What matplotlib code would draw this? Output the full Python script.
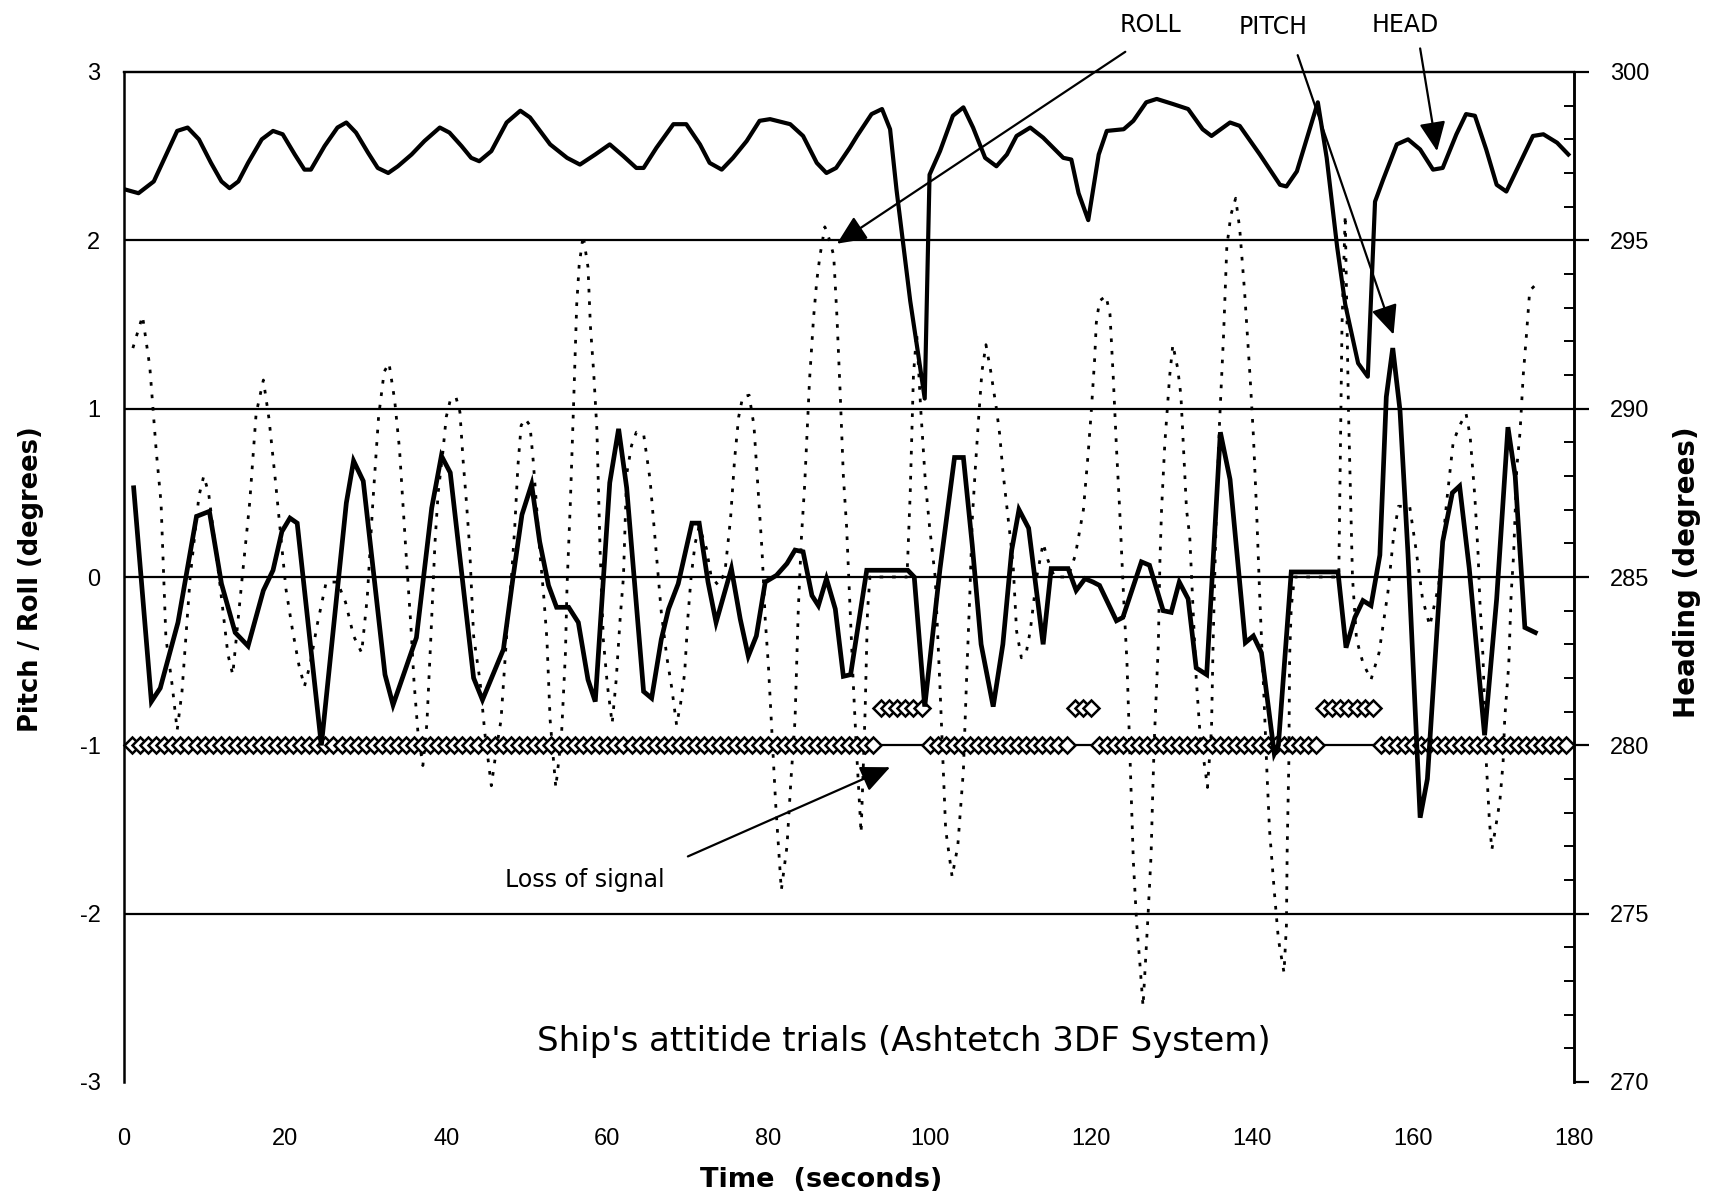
import numpy as np
import matplotlib
matplotlib.use("Agg")
import matplotlib.pyplot as plt
from matplotlib.ticker import MultipleLocator

# ---------------- data ----------------
pitch_t = [1.2, 3.4, 4.5, 6.7, 9.0, 10.6, 12.1, 13.8, 15.4, 17.3, 18.5, 19.6, 20.6, 21.5,
           24.5, 27.6, 28.5, 29.7, 32.4, 33.4, 36.3, 38.2, 39.4, 40.5, 43.4, 44.5, 47.1,
           48.3, 49.4, 50.6, 51.6, 52.7, 53.7, 55.2, 56.4, 57.6, 58.5, 60.3, 61.4, 62.4,
           64.5, 65.5, 66.7, 67.6, 68.8, 70.5, 71.4, 72.5, 73.5, 75.4, 76.5, 77.5, 78.5,
           79.6, 81.0, 82.3, 83.3, 84.3, 85.4, 86.2, 87.2, 88.3, 89.3, 90.2, 92.2, 97.3,
           98.1, 99.4, 101.3, 103.1, 104.2, 105.3, 106.4, 107.9, 109.1, 110.2, 111.1,
           112.3, 114.1, 115.1, 117.2, 118.2, 119.3, 120.3, 121.1, 123.2, 124.0, 126.3,
           127.3, 129.0, 130.0, 131.0, 132.1, 133.1, 134.4, 136.1, 137.3, 139.2, 140.2,
           141.2, 142.8, 143.3, 144.9, 150.7, 151.7, 152.8, 153.8, 154.8, 155.9, 156.7,
           157.5, 158.4, 159.4, 160.9, 161.8, 163.7, 164.9, 165.8, 167.0, 168.9, 170.4,
           171.8, 172.7, 173.9, 175.2]
pitch_v = [0.53, -0.74, -0.66, -0.27, 0.36, 0.39, -0.04, -0.33, -0.41, -0.08, 0.04, 0.27, 0.35, 0.32,
           -1.00, 0.44, 0.69, 0.57, -0.58, -0.76, -0.36, 0.41, 0.72, 0.62, -0.60, -0.73, -0.43,
           0.00, 0.37, 0.55, 0.21, -0.05, -0.18, -0.18, -0.27, -0.61, -0.74, 0.56, 0.88, 0.53,
           -0.68, -0.72, -0.37, -0.19, -0.04, 0.32, 0.32, -0.03, -0.27, 0.05, -0.25, -0.47, -0.35,
           -0.03, 0.01, 0.08, 0.16, 0.15, -0.11, -0.17, -0.01, -0.19, -0.59, -0.58, 0.04, 0.04,
           0.00, -0.77, 0.05, 0.71, 0.71, 0.19, -0.40, -0.77, -0.40, 0.16, 0.40,
           0.29, -0.40, 0.05, 0.05, -0.08, -0.01, -0.03, -0.05, -0.26, -0.24, 0.09,
           0.07, -0.20, -0.21, -0.03, -0.13, -0.54, -0.58, 0.86, 0.58, -0.39, -0.35,
           -0.45, -1.05, -1.00, 0.03, 0.03, -0.42, -0.24, -0.14, -0.17, 0.13, 1.07,
           1.36, 0.99, 0.13, -1.43, -1.20, 0.21, 0.50, 0.54, 0.05, -0.94, -0.13,
           0.89, 0.60, -0.30, -0.33]

roll_t = [1.1, 2.3, 3.2, 4.0, 4.6, 5.2, 6.0, 6.6, 7.2, 8.2, 9.3, 9.9, 10.5, 11.9, 12.9, 13.5,
          14.7, 15.6, 16.4, 17.3, 18.0, 18.8, 20.1, 20.9, 21.7, 22.4, 23.1, 24.0, 25.1, 26.5,
          27.5, 28.5, 29.5, 30.2, 30.9, 31.6, 32.3, 32.9, 33.6, 34.2, 35.0, 35.6, 36.0, 36.5,
          37.1, 37.6, 38.1, 38.6, 39.0, 39.6, 40.0, 40.5, 41.2, 41.7, 42.1, 42.5, 42.9, 43.4,
          44.2, 44.8, 45.6, 46.3, 46.8, 47.5, 48.1, 48.5, 48.9, 49.3, 49.8, 50.4, 50.8, 51.2,
          51.6, 52.1, 52.5, 52.9, 53.6, 54.3, 54.8, 55.0, 55.4, 55.8, 56.2, 56.5, 57.0, 57.6,
          57.9, 58.3, 58.7, 59.1, 59.5, 60.0, 60.6, 61.1, 61.6, 62.0, 62.4, 63.0, 63.6, 64.5,
          65.3, 66.1, 66.7, 67.4, 68.0, 68.6, 69.1, 69.6, 70.0, 70.4, 70.9, 71.4, 72.3, 72.9,
          73.8, 74.6, 75.3, 75.8, 76.3, 76.8, 77.6, 78.2, 78.6, 79.2, 79.6, 80.0, 80.4, 80.9,
          81.6, 82.3, 82.8, 83.3, 83.7, 84.1, 84.5, 84.9, 85.1, 85.6, 86.0, 86.4, 87.0, 87.6,
          88.1, 88.5, 88.9, 89.3, 89.7, 90.1, 90.5, 90.9, 91.5, 92.0, 92.3, 92.6, 97.2, 97.6,
          98.0, 98.4, 98.9, 99.5, 100.0, 100.7, 101.3, 101.7, 102.0, 102.8, 103.5, 104.2,
          104.6, 105.0, 105.3, 105.7, 106.1, 106.5, 107.0, 107.6, 108.3, 108.7, 109.1, 110.1,
          110.4, 110.8, 111.4, 112.0, 112.5, 113.3, 114.1, 114.7, 115.5, 117.2, 118.1, 119.1,
          119.7, 120.1, 120.5, 120.7, 121.1, 121.9, 122.4, 122.8, 123.2, 123.6, 124.1, 124.5,
          124.9, 125.3, 125.7, 126.1, 126.5, 127.1, 127.5, 127.7, 127.9, 128.4, 128.6, 128.8,
          129.2, 129.8, 130.2, 130.8, 131.2, 131.9, 132.3, 133.1, 133.6, 134.2, 134.5, 135.0,
          135.2, 135.4, 135.6, 136.0, 136.5, 136.9, 137.4, 138.0, 138.5, 139.1, 139.8, 140.2,
          140.6, 141.0, 141.5, 141.9, 142.2, 142.8, 143.3, 144.0, 144.3, 144.4, 144.6, 144.7,
          144.9, 145.3, 150.8, 151.2, 151.6, 152.0, 152.5, 153.0, 153.8, 154.8, 155.8, 156.9,
          157.6, 158.2, 159.6, 160.4, 161.2, 162.1, 163.2, 164.2, 165.0, 165.8, 166.6, 167.1,
          167.7, 168.1, 168.3, 168.7, 169.1, 169.5, 169.8, 170.2, 170.8, 171.2, 171.4, 171.9,
          172.2, 172.5, 172.9, 173.3, 173.7, 174.1, 174.5, 175.1]
roll_v = [1.36, 1.55, 1.25, 0.75, 0.44, -0.36, -0.65, -0.91, -0.68, -0.01, 0.48, 0.60, 0.50, -0.04, -0.46, -0.58,
          0.01, 0.44, 0.97, 1.17, 0.94, 0.57, -0.07, -0.31, -0.52, -0.65, -0.52, -0.28, -0.03, -0.03,
          -0.15, -0.35, -0.45, -0.12, 0.45, 0.95, 1.22, 1.27, 1.05, 0.76, 0.15, -0.28, -0.62, -0.93,
          -1.12, -0.87, -0.35, 0.20, 0.50, 0.75, 0.95, 1.05, 1.07, 0.98, 0.69, 0.45, 0.18, -0.35,
          -0.62, -0.93, -1.24, -1.00, -0.85, -0.35, 0.00, 0.29, 0.66, 0.90, 0.94, 0.90, 0.69, 0.43,
          0.16, -0.11, -0.37, -0.85, -1.25, -0.95, -0.45, -0.05, 0.43, 1.01, 1.62, 1.85, 2.03, 1.84,
          1.49, 1.22, 0.88, 0.16, -0.37, -0.64, -0.87, -0.61, -0.24, 0.00, 0.61, 0.78, 0.86, 0.85,
          0.58, 0.13, -0.21, -0.48, -0.66, -0.88, -0.75, -0.57, -0.24, 0.00, 0.20, 0.30, 0.17, 0.00,
          -0.05, 0.03, 0.35, 0.70, 0.95, 1.07, 1.08, 0.90, 0.60, 0.16, -0.25, -0.53, -0.90, -1.35,
          -1.86, -1.60, -1.20, -0.85, -0.20, 0.24, 0.55, 0.96, 1.17, 1.54, 1.76, 1.91, 2.08, 2.00,
          1.91, 1.55, 1.10, 0.60, 0.30, -0.15, -0.60, -1.00, -1.52, -0.80, -0.20, 0.00, 0.00, 0.50,
          1.20, 1.45, 1.00, 0.55, 0.30, 0.00, -0.66, -1.14, -1.50, -1.78, -1.60, -1.15,
          -0.60, -0.10, 0.34, 0.66, 0.95, 1.22, 1.38, 1.22, 1.00, 0.85, 0.63, 0.20,
          0.05, -0.32, -0.48, -0.45, -0.32, 0.00, 0.20, 0.10, 0.00, 0.00, 0.13, 0.40,
          0.74, 1.00, 1.30, 1.51, 1.64, 1.67, 1.56, 1.19, 0.77, 0.40, -0.13, -0.50,
          -1.10, -1.69, -2.05, -2.29, -2.55, -2.03, -1.65, -1.29, -0.97, -0.40, 0.10, 0.40,
          0.79, 1.19, 1.38, 1.24, 1.08, 0.40, 0.24, -0.60, -0.95, -1.14, -1.25, -0.90,
          -0.39, 0.00, 0.39, 0.92, 1.44, 1.96, 2.15, 2.25, 2.07, 1.70, 1.18, 0.84,
          0.39, -0.13, -0.70, -1.18, -1.50, -1.87, -2.15, -2.35, -2.07, -1.60, -1.10, -0.47,
          -0.18, 0.00, 0.00, 1.50, 2.15, 1.00, 0.00, -0.37, -0.51, -0.61, -0.45, -0.09,
          0.24, 0.42, 0.42, 0.16, -0.13, -0.29, -0.05, 0.45, 0.80, 0.90, 0.97, 0.84,
          0.47, 0.13, -0.13, -0.47, -1.09, -1.45, -1.62, -1.51, -1.33, -1.10, -0.84, -0.52,
          -0.10, 0.13, 0.65, 0.86, 1.20, 1.44, 1.70, 1.73]

head_t = [0.3, 1.8, 3.7, 6.6, 7.9, 9.3, 10.8, 12.1, 13.1, 14.2, 15.4, 17.1, 18.5, 19.7, 21.2, 22.4,
          23.2, 24.9, 26.5, 27.6, 28.8, 30.3, 31.5, 32.8, 34.0, 35.7, 37.3, 39.2, 40.4, 41.9, 43.1,
          44.1, 45.6, 47.5, 49.2, 50.4, 52.9, 55.0, 56.6, 58.5, 60.3, 62.0, 63.6, 64.5, 66.1, 68.2,
          69.8, 71.5, 72.7, 74.2, 75.6, 77.3, 78.9, 80.2, 82.7, 84.3, 86.0, 87.2, 88.4, 90.1, 91.0,
          92.8, 94.1, 95.1, 95.9, 97.6, 98.6, 99.4, 100.0, 101.3, 102.9, 104.2, 105.4, 106.9, 108.3,
          109.6, 110.8, 112.5, 114.1, 116.6, 117.6, 118.5, 119.7, 121.0, 122.0, 124.1, 125.3, 126.9,
          128.2, 130.2, 132.1, 133.9, 135.0, 137.3, 138.5, 141.0, 143.5, 144.3, 145.6, 148.2, 149.3,
          150.6, 151.6, 153.2, 154.4, 155.3, 156.3, 158.0, 159.4, 160.9, 162.5, 163.7, 165.4, 166.6,
          167.7, 169.1, 170.4, 171.6, 173.3, 174.9, 176.2, 177.9, 179.3]
head_deg = [296.5, 296.4, 296.75, 298.25, 298.35, 298.0, 297.3, 296.75, 296.55, 296.75, 297.3, 298.0,
            298.25, 298.15, 297.55, 297.1, 297.1, 297.8, 298.35, 298.5, 298.2, 297.6, 297.15, 297.0,
            297.2, 297.55, 297.95, 298.35, 298.2, 297.8, 297.45, 297.35, 297.65, 298.5, 298.85,
            298.65, 297.85, 297.45, 297.25, 297.55, 297.85, 297.5, 297.15, 297.15, 297.75, 298.45,
            298.45, 297.85, 297.3, 297.1, 297.45, 297.95, 298.55, 298.6, 298.45, 298.1, 297.3,
            297.0, 297.15, 297.75, 298.1, 298.75, 298.9, 298.3, 296.5, 293.2, 291.6, 290.3, 296.95,
            297.65, 298.7, 298.95, 298.35, 297.45, 297.2, 297.55, 298.1, 298.35, 298.05, 297.45,
            297.4, 296.4, 295.6, 297.55, 298.25, 298.3, 298.55, 299.1, 299.2, 299.05, 298.9, 298.3,
            298.1, 298.5, 298.4, 297.55, 296.65, 296.6, 297.05, 299.1, 297.45, 294.8, 293.1,
            291.35, 290.95, 296.15, 296.8, 297.85, 298.0, 297.7, 297.1, 297.15, 298.15, 298.75,
            298.7, 297.7, 296.65, 296.45, 297.3, 298.1, 298.15, 297.9, 297.55]

# signal status markers (one per second); loss-of-signal seconds
sample_t = list(range(1, 180))
loss_t = [94, 95, 96, 97, 98, 99, 118, 119, 120, 149, 150, 151, 152, 153, 154, 155]
ok_level = -1.0
loss_level = -0.78

x_ticks = [0, 20, 40, 60, 80, 100, 120, 140, 160, 180]
y_ticks = [-3, -2, -1, 0, 1, 2, 3]
h_ticks = [270, 275, 280, 285, 290, 295, 300]

# ---------------- figure ----------------
W, H = 1722, 1198
fig = plt.figure(figsize=(W / 100, H / 100), dpi=100)
L, R, T, B = 124, 1574, 72, 1082
ax = fig.add_axes([L / W, 1 - B / H, (R - L) / W, (B - T) / H])
ax.set_xlim(0, 180)
ax.set_ylim(-3, 3)
ax2 = ax.twinx()
ax2.set_ylim(270, 300)

tick_font = dict(family="Liberation Sans", size=17)

# gridlines
for yv in y_ticks[1:-1]:
    ax.axhline(yv, color="black", lw=1.6, zorder=1)

# status markers
ok_t = [t for t in sample_t if t not in loss_t]
ax.plot(ok_t, [ok_level] * len(ok_t), linestyle="none", marker="D", ms=8.5,
        mfc="white", mec="black", mew=1.8, zorder=3, clip_on=False)
ax.plot(loss_t, [loss_level] * len(loss_t), linestyle="none", marker="D", ms=8.5,
        mfc="white", mec="black", mew=1.8, zorder=3)

# roll (dotted) and pitch (solid)
ax.plot(roll_t, roll_v, color="black", lw=2.0, linestyle=(0, (1.3, 3.2)), zorder=2)
ax.plot(pitch_t, pitch_v, color="black", lw=3.4, zorder=4, solid_joinstyle="miter")

# heading on the right-hand axis
ax2.plot(head_t, head_deg, color="black", lw=3.0, zorder=4)

# spines
for a in (ax, ax2):
    a.spines["bottom"].set_visible(False)
    a.spines["top"].set_linewidth(1.6)
    a.spines["left"].set_linewidth(1.8)
    a.spines["right"].set_linewidth(1.8)
ax2.spines["left"].set_visible(False)

# ticks
ax.set_xticks(x_ticks)
ax.set_yticks(y_ticks)
ax.set_xticklabels([str(v) for v in x_ticks], **tick_font)
ax.set_yticklabels([str(v) for v in y_ticks], **tick_font)
ax.tick_params(axis="x", length=0, pad=33)
ax.tick_params(axis="y", length=0, pad=17)
ax2.set_yticks(h_ticks)
ax2.set_yticklabels([str(v) for v in h_ticks], **tick_font)
ax2.yaxis.set_minor_locator(MultipleLocator(1))
ax2.tick_params(axis="y", which="major", direction="out", length=11, width=1.6, pad=15)
ax2.tick_params(axis="y", which="minor", direction="in", length=7, width=1.4)

# axis labels
fig.text(31 / W, 1 - 579 / H, "Pitch / Roll (degrees)", rotation=90,
         ha="center", va="center", family="DejaVu Sans", size=18.5, weight="bold")
fig.text(1687 / W, 1 - 572 / H, "Heading (degrees)", rotation=90,
         ha="center", va="center", family="DejaVu Sans", size=20, weight="bold")
fig.text(821 / W, 1 - 1180 / H, "Time  (seconds)", ha="center", va="center",
         family="DejaVu Sans", size=19.5, weight="bold")

# title inside the plot
fig.text(904 / W, 1 - 1041 / H, "Ship's attitide trials (Ashtetch 3DF System)",
         ha="center", va="center", family="DejaVu Sans", size=24.5)

# annotations
arrow = dict(arrowstyle="-|>,head_length=1.0,head_width=0.45", color="black",
             lw=1.6, mutation_scale=18, shrinkA=0, shrinkB=0)
ann_font = dict(family="DejaVu Sans", size=17)
ax2.annotate("", xy=(88.5, 1.98), xytext=(124.3, 3.12), xycoords=ax.transData,
             textcoords=ax.transData, arrowprops=arrow, annotation_clip=False)
ax2.text(127.4, 3.28, "ROLL", transform=ax.transData, ha="center", va="center", **ann_font)
ax2.annotate("", xy=(157.6, 1.44), xytext=(145.7, 3.10), xycoords=ax.transData,
             textcoords=ax.transData, arrowprops=arrow, annotation_clip=False)
ax2.text(142.6, 3.27, "PITCH", transform=ax.transData, ha="center", va="center", **ann_font)
ax2.annotate("", xy=(163.0, 2.53), xytext=(160.9, 3.14), xycoords=ax.transData,
             textcoords=ax.transData, arrowprops=arrow, annotation_clip=False)
ax2.text(159.0, 3.28, "HEAD", transform=ax.transData, ha="center", va="center", **ann_font)
ax2.annotate("", xy=(95.1, -1.13), xytext=(70.0, -1.66), xycoords=ax.transData,
             textcoords=ax.transData, arrowprops=arrow, annotation_clip=False)
ax2.text(57.2, -1.80, "Loss of signal", transform=ax.transData, ha="center", va="center",
         **ann_font)

fig.savefig("out.png", dpi=100, facecolor="white")
